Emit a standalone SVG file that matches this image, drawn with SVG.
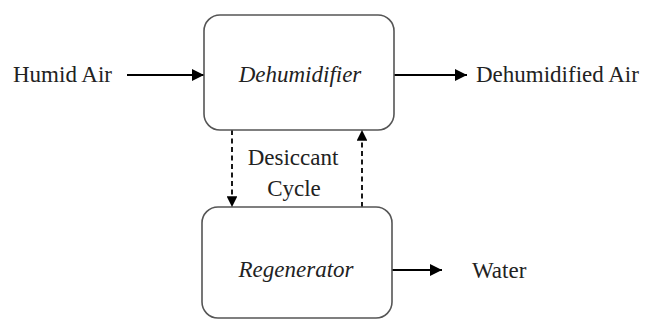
<svg xmlns="http://www.w3.org/2000/svg" width="651" height="320" viewBox="0 0 651 320">
<defs>
<style>
.box{fill:#fff;stroke:#555;stroke-width:1.6}
.t{font-family:'Liberation Serif','Tinos','Times New Roman','DejaVu Serif','Noto Serif',serif;font-size:23px;fill:#222}
.i{font-style:italic;text-anchor:middle}
.c{fill:none;stroke:#000;stroke-width:2}
.d{fill:none;stroke:#000;stroke-width:1.8;stroke-dasharray:5 3.5}
</style>
<marker id="ah" viewBox="0 0 10 10" refX="10" refY="5" markerWidth="6" markerHeight="6" orient="auto" markerUnits="strokeWidth">
<path d="M0,0 L10,5 L0,10 z" fill="#000"/>
</marker>
</defs>
<rect width="651" height="320" fill="#fff"/>
<g id="connectors">
<line class="c" x1="127" y1="75" x2="204" y2="75" marker-end="url(#ah)"/>
<line class="c" x1="394" y1="75" x2="467" y2="75" marker-end="url(#ah)"/>
<line class="c" x1="392" y1="270" x2="442" y2="270" marker-end="url(#ah)"/>
<line class="d" x1="232" y1="130" x2="232" y2="207" marker-end="url(#ah)"/>
<line class="d" x1="362" y1="207" x2="362" y2="130" marker-end="url(#ah)"/>
</g>
<g id="humid-air"><text class="t" x="13" y="82">Humid Air</text></g>
<g id="dehumidifier">
<rect class="box" x="204" y="15" width="190" height="115" rx="16"/>
<text class="t i" x="300" y="82">Dehumidifier</text>
</g>
<g id="dehumidified-air"><text class="t" x="476" y="82">Dehumidified Air</text></g>
<g id="desiccant-cycle">
<text class="t" x="293" y="165" text-anchor="middle">Desiccant</text>
<text class="t" x="294" y="196" text-anchor="middle">Cycle</text>
</g>
<g id="regenerator">
<rect class="box" x="202" y="207" width="190" height="111" rx="16"/>
<text class="t i" x="296" y="277">Regenerator</text>
</g>
<g id="water"><text class="t" x="472" y="278">Water</text></g>
</svg>
